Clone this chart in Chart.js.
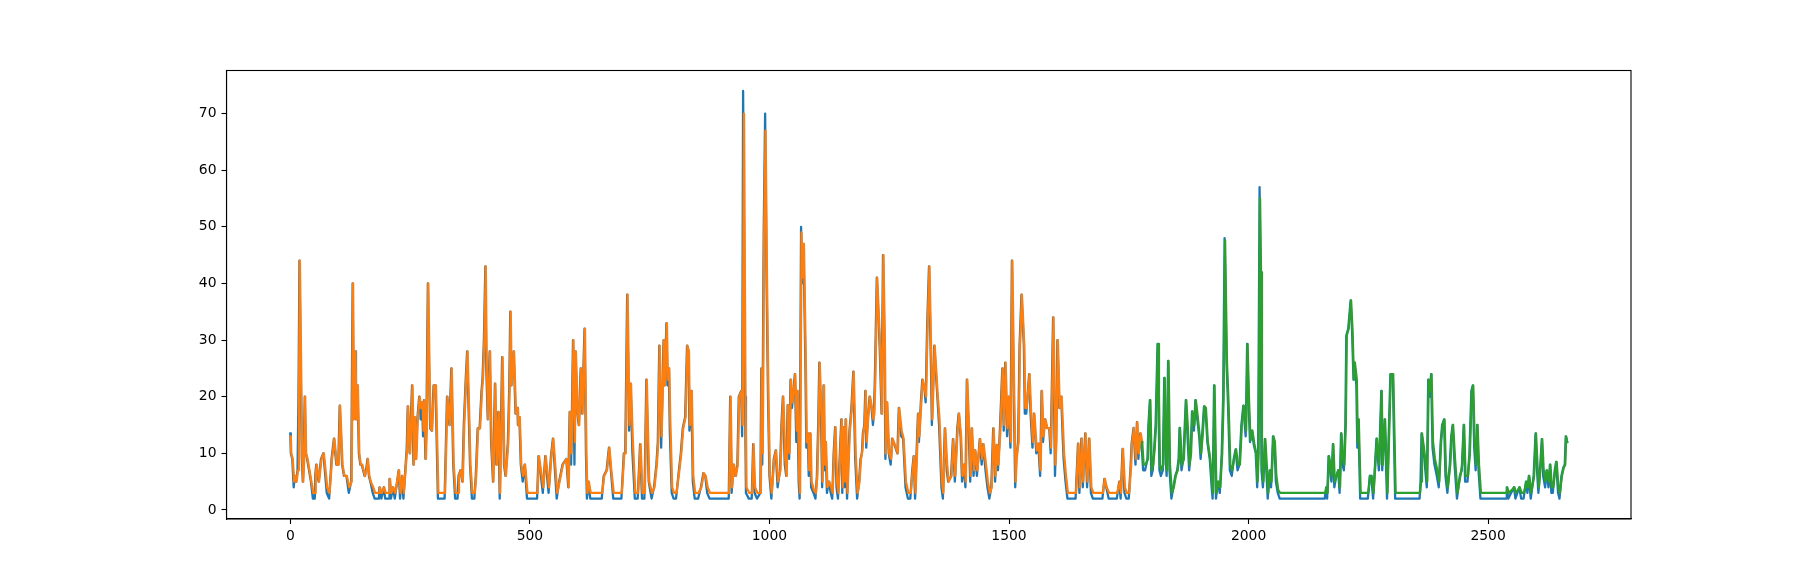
<!DOCTYPE html>
<html>
<head>
<meta charset="utf-8">
<style>
  html, body { margin: 0; padding: 0; background: #fff; }
  canvas { display: block; }
</style>
<script src="https://cdn.jsdelivr.net/npm/chart.js@4"></script>
</head>
<body>
<canvas id="chart" width="1812" height="583"></canvas>
<script>
const xTicks = [0, 500, 1000, 1500, 2000, 2500];
const yTicks = [0, 10, 20, 30, 40, 50, 60, 70];

// [sample, value]
const bluePoints = [
  [0,13.5],[1,10],[4,9],[7,4],[9,6],[12,5],[15,7],[17,20],[19,44],[22,22],[24,9],[26,5],[28,9],[30,20],[32,10],[35,9],[39,7],[43,5],[47,2],[51,2],
  [52,6],[54,8],[59,5],[64,9],[69,10],[76,3],[81,2],[86,9],[91,12.6],[96,8],[100,8],[103,18.4],[108,8],[112,6],[117,6],[122,3],[127,5],[130,40],[132,16],[135,28],[137,16],[140,22],
  [143,10],[146,8],[149,8],[152,7],[155,6],[158,7],[161,9],[164,6],[167,5],[172,3],[176,2],[185,2],[186,4],[190,2],[195,4],[198,2],[206,2],[207,5.5],[210,2],[214,4],[218,2],[226,7],[229,2],
  [233,6],[236,2],[243,11],[245,18.3],[249,10],[254,22],[257,8],[259,16.4],[262,9],[265,16],[269,20],[272,16],[275,19],[277,13],[279,19.4],[282,9],[284,15],[287,40],[290,22],[292,14.4],[295,14],
  [299,22],[303,22],[305,14],[308,2],[322,2],[327,20],[332,15],[336,25],[340,8],[344,2],[349,2],[351,6],[355,7],[359,5],[362,15],[366,23],[369,28],[375,8],[379,2],[384,2],[387,6],[391,14.4],[395,14.4],
  [399,21],[401,23],[404,30],[407,43],[409,25],[412,16],[416,28],[419,12],[423,5],[427,22.3],[430,8],[434,17.3],[437,2],[442,27],[446,8],[449,6],[454,12],[457,22],[459,35],[461,22],[466,28],[470,17],
  [474,18],[475,15],[478,16.4],[481,8],[485,5],[489,8],[494,2],[515,2],[518,9.5],[527,3],[532,9.5],[539,3],[544,9.5],[548,12.6],[556,2],[561,5],[568,8],[576,9],[580,4],[583,17.3],[586,8],[590,30],[593,8],
  [595,28],[599,17],[602,15],[606,25],[609,17],[614,32],[617,10],[619,2],[622,5],[626,2],[650,2],[654,6],[660,7],[665,11],[669,7],[674,2],[691,2],[696,10],[699,10],[703,38],[707,14],[710,22.3],[714,10],[719,2],[725,2],
  [730,11.6],[734,2],[739,2],[743,23],[748,5],[754,2],[759,4],[764,8],[767,12],[770,29],[774,11],[779,30],[781,22],[785,33],[787,22],[790,25],[792,14],[796,3],[800,2],[805,2],[811,7],[815,10],[819,14.4],
  [824,16.4],[828,29],[831,28],[833,14],[837,21],[840,5],[844,2],[851,2],[857,4],[862,6.5],[866,6],[870,3],[875,2],[915,2],[918,20],[921,3],[925,8],[929,6],[933,8],[936,20],[941,21],[943,13],[945,74],
  [949,20],[951,3],[957,2],[963,2],[966,11.6],[969,3],[974,2],[981,3],[983,25],[985,8],[988,49],[991,70],[994,40],[997,20],[1000,6],[1004,2],[1009,9],[1013,10.5],[1017,4],[1022,7],[1025,15],[1028,20],
  [1032,8],[1035,6],[1038,18.5],[1041,9],[1044,23],[1047,18],[1050,21],[1053,24],[1056,12],[1058,21],[1061,5],[1063,2],[1066,50],[1068,40],[1071,47],[1075,26],[1077,11],[1080,13.5],[1082,6],[1085,13.5],
  [1087,4],[1092,3],[1096,2],[1099,6],[1102,16],[1104,26],[1108,15],[1110,4],[1113,22],[1115,7],[1117,12],[1120,3],[1124,5],[1128,3],[1131,2],[1134,10],[1137,14.6],[1140,4],[1143,2],[1146,8],[1150,16],
  [1152,3],[1155,14.6],[1157,4],[1159,16],[1162,2],[1165,10],[1167,14],[1171,18],[1175,24.4],[1179,9],[1183,2],[1187,5],[1190,9],[1193,10],[1195,13.5],[1198,15],[1200,21],[1202,11],[1205,16],[1209,20],
  [1213,18],[1216,15],[1218,17],[1220,23],[1224,41],[1230,29],[1234,17],[1237,45],[1240,29],[1242,9],[1245,19],[1249,10],[1253,8],[1256,12.6],[1261,11.5],[1267,10],[1270,18],[1275,13],[1279,12.6],
  [1284,4],[1289,2],[1294,2],[1298,7],[1301,9.5],[1304,2],[1307,10],[1310,17],[1312,12],[1316,19],[1319,23],[1324,21],[1326,19],[1329,32],[1333,43],[1337,26],[1339,15],[1344,29],[1350,20.6],[1354,15],
  [1359,4],[1362,2],[1366,14.4],[1370,7],[1373,5],[1379,6],[1383,12.5],[1387,5],[1392,14.4],[1395,17],[1399,13],[1402,5],[1406,8],[1409,4],[1412,23],[1417,11],[1419,5],[1422,14.4],[1426,6],[1429,10.5],
  [1433,6],[1439,12.5],[1443,8],[1446,11.6],[1451,7],[1455,4],[1459,2],[1463,4],[1467,14.4],[1471,5],[1474,11.5],[1477,7],[1481,14],[1486,25],[1489,14],[1492,26],[1496,13],[1499,20],[1503,11],[1506,44],
  [1510,20],[1513,4],[1515,9],[1519,12],[1522,29],[1526,38],[1531,29],[1533,17],[1536,17],[1542,24],[1545,17],[1549,11],[1552,17],[1557,10],[1561,11.7],[1565,6],[1568,21],[1571,12],[1575,16],[1579,14.5],
  [1584,14.4],[1587,10],[1592,34],[1596,6],[1598,12],[1601,30],[1605,18],[1609,20],[1612,13],[1614,9],[1618,5],[1622,2],[1639,2],[1644,11.7],[1647,3],[1651,12.6],[1654,4],[1659,13.5],[1663,4],[1667,12.6],
  [1671,3],[1675,2],[1695,2],[1699,5.5],[1703,4],[1708,2],[1725,2],[1730,5],[1733,2],[1737,10.8],[1741,3],[1745,2],[1750,2],[1754,8],[1756,11.8],[1760,14.5],[1764,8],[1767,15.5],[1770,9],[1774,13.5],
  [1777,11],[1780,7],[1784,7],[1789,9],[1791,15],[1794,19.4],[1797,6],[1800,7],[1803,10.8],[1806,15],[1810,29.3],[1812,19],[1814,7],[1817,6],[1821,7],[1824,23.3],[1827,9],[1829,6],[1832,26.3],[1835,7],
  [1839,2],[1843,4],[1847,6],[1851,7],[1854,9],[1856,14.5],[1860,7],[1864,9],[1869,19.4],[1872,14],[1876,7],[1879,10],[1882,17.4],[1886,14],[1889,19.4],[1893,16],[1897,13],[1900,9],[1903,13],[1907,18.3],
  [1910,18],[1914,12],[1919,9],[1923,4],[1925,2],[1928,22],[1932,2],[1936,5],[1940,3],[1944,10],[1947,20],[1950,48],[1954,26],[1957,19],[1961,7],[1965,6],[1969,9],[1973,10.7],[1977,7],[1981,8],[1985,15],
  [1989,18.4],[1994,13],[1997,29.3],[2000,19],[2003,12],[2007,14],[2011,11.5],[2015,10],[2018,4],[2020,10],[2023,57],[2025,40],[2027,7],[2030,4],[2034,12.5],[2037,7],[2040,2],[2044,7],[2047,4],[2051,13],
  [2054,12],[2057,5],[2061,3],[2065,2],[2159,2],[2162,4],[2164,2],[2167,9.5],[2170,7],[2173,5],[2176,11.6],[2179,4],[2183,6],[2187,7],[2190,3],[2193,13.5],[2196,8],[2199,7],[2202,15],[2204,30.8],[2208,32],
  [2213,37],[2216,31.7],[2219,23],[2221,26],[2225,22],[2227,11],[2229,16],[2233,2],[2249,2],[2253,6],[2256,6],[2260,2],[2267,12.6],[2272,7],[2277,21],[2279,7],[2284,16],[2289,2],[2296,24],[2301,24],[2306,2],
  [2357,2],[2359,5],[2361,13.5],[2365,11],[2369,7],[2372,4],[2375,23],[2378,20],[2381,24],[2384,11],[2388,8],[2393,6],[2397,4],[2401,12],[2404,15],[2408,16],[2411,6],[2415,3],[2420,8],[2423,13],[2426,15],
  [2430,8],[2435,2],[2441,6],[2445,7],[2449,15],[2452,5],[2457,5],[2461,10],[2465,21],[2468,22],[2471,11],[2474,7],[2477,15],[2480,7],[2484,2],[2538,2],[2539,4],[2542,2],[2554,4],[2557,2],[2565,4],[2569,2],
  [2574,2],[2579,5],[2582,3],[2585,6],[2589,2],[2595,6],[2599,13.5],[2602,7],[2605,3],[2609,8],[2612,12.5],[2615,6],[2619,4],[2622,7],[2626,4],[2629,8],[2632,3],[2635,3],[2639,7],[2642,8.5],[2646,3],[2649,2],
  [2653,6],[2657,7.5],[2660,8],[2662,13],[2665,12]
];

const orangePoints = [
  [1,13],[2,10],[5,9],[8,5],[10,6],[13,5],[16,7],[18,20],[20,44],[23,22],[25,9],[27,5],[29,9],[31,20],[33,10],[36,9],[40,7],[44,5],[48,3],[52,3],
  [53,6],[55,8],[60,5],[65,9],[70,10],[77,4],[82,3],[87,9],[92,12.6],[97,8],[101,8],[104,18.4],[109,8],[113,6],[118,6],[123,4],[128,5],[131,40],[133,16],[136,28],[138,16],[141,22],
  [144,10],[147,8],[150,8],[153,7],[156,6],[159,7],[162,9],[165,6],[168,5],[173,4],[177,3],[186,3],[187,4],[191,3],[196,4],[199,3],[207,3],[208,5.5],[211,3],[215,4],[219,3],[227,7],[230,3],
  [234,6],[237,3],[244,11],[246,18.3],[250,10],[255,22],[258,8],[260,16.4],[263,9],[266,16],[270,20],[273,18],[276,19],[278,14],[280,19.4],[283,9],[285,15],[288,40],[291,22],[293,14.4],[296,14],
  [300,22],[304,22],[306,14],[309,3],[323,3],[328,20],[333,15],[337,25],[341,8],[345,3],[350,3],[352,6],[356,7],[360,5],[363,15],[367,23],[370,28],[376,8],[380,3],[385,3],[388,6],[392,14.4],[396,14.4],
  [400,21],[402,23],[405,30],[408,43],[410,25],[413,16],[417,28],[420,12],[424,5],[428,22.3],[431,8],[435,17.3],[438,3],[443,27],[447,8],[450,6],[455,12],[458,22],[460,35],[462,22],[467,28],[471,17],
  [475,18],[476,15],[479,16.4],[482,8],[486,6],[490,8],[495,3],[516,3],[519,9.5],[528,4],[533,9.5],[540,4],[545,9.5],[549,12.6],[557,3],[562,5],[569,8],[577,9],[581,4],[584,17.3],[587,10],[591,30],[594,12],
  [596,28],[600,17],[603,15],[607,25],[610,17],[615,32],[618,10],[620,3],[623,5],[627,3],[651,3],[655,6],[661,7],[666,11],[670,7],[675,3],[692,3],[697,10],[700,10],[704,38],[708,15],[711,22.3],[715,12],[720,3],[726,3],
  [731,11.6],[735,3],[740,3],[744,23],[749,5],[755,3],[760,4],[765,8],[768,12],[771,29],[775,13],[780,30],[782,22],[786,33],[788,23],[791,25],[793,16],[797,4],[801,3],[806,3],[812,7],[816,10],[820,14.4],
  [825,16.4],[829,29],[832,28],[834,15],[838,21],[841,6],[845,3],[852,3],[858,4],[863,6.5],[867,6],[871,4],[876,3],[916,3],[919,20],[922,4],[926,8],[930,6],[934,8],[937,20],[942,21],[944,15],[947,70],
  [950,20],[952,4],[958,3],[964,3],[967,11.6],[970,4],[975,3],[982,3],[984,25],[986,10],[989,49],[992,67],[995,40],[998,20],[1001,6],[1005,3],[1010,9],[1014,10.5],[1018,5],[1023,7],[1026,15],[1029,20],
  [1033,9],[1036,6],[1039,18.5],[1042,10],[1045,23],[1048,19],[1051,21],[1054,24],[1057,14],[1059,21],[1062,6],[1064,3],[1067,49],[1069,41],[1072,47],[1076,26],[1078,12],[1081,13.5],[1083,7],[1086,13.5],
  [1088,5],[1093,3.5],[1097,3],[1100,6],[1103,16],[1105,26],[1109,16],[1111,5],[1114,22],[1116,8],[1118,12],[1121,4],[1125,5],[1129,4],[1132,3],[1135,10],[1138,14.6],[1141,5],[1144,3],[1147,8],[1151,16],
  [1153,4],[1156,14.6],[1158,5],[1160,16],[1163,3],[1166,10],[1168,14],[1172,18],[1176,24.4],[1180,10],[1184,3],[1188,5],[1191,9],[1194,10.5],[1196,13.5],[1199,15],[1201,21],[1203,12],[1206,16],[1210,20],
  [1214,18],[1217,16],[1219,17],[1221,23],[1225,41],[1231,29],[1235,17],[1238,45],[1241,29],[1243,10],[1246,19],[1250,10],[1254,9],[1257,12.6],[1262,11.5],[1268,10],[1271,18],[1276,14],[1280,12.6],
  [1285,5],[1290,3],[1295,3],[1299,7],[1302,9.5],[1305,3],[1308,10],[1311,17],[1313,13],[1317,19],[1320,23],[1325,21],[1327,20],[1330,32],[1334,43],[1338,26],[1340,16],[1345,29],[1351,20.6],[1355,16],
  [1360,5],[1363,3],[1367,14.4],[1371,8],[1374,5],[1380,6],[1384,12.5],[1388,6],[1393,14.4],[1396,17],[1400,13],[1403,6],[1407,8],[1410,5],[1413,23],[1418,11.7],[1420,6],[1423,14.4],[1427,7],[1430,10.5],
  [1434,7],[1440,12.5],[1444,9],[1447,11.6],[1452,8],[1456,5],[1460,3],[1464,4],[1468,14.4],[1472,6],[1475,11.5],[1478,8],[1482,14],[1487,25],[1490,15],[1493,26],[1497,14.4],[1500,20],[1504,12],[1507,44],
  [1511,20],[1514,5],[1516,9],[1520,12],[1523,29],[1527,38],[1532,29],[1534,18],[1537,18],[1543,24],[1546,17.6],[1550,12],[1553,17],[1558,10.5],[1562,11.7],[1566,7],[1569,21],[1572,13],[1576,16],[1580,14.5],
  [1585,14.4],[1588,11],[1593,34],[1597,8],[1599,12],[1602,30],[1606,18],[1610,20],[1613,14],[1615,10],[1619,6],[1623,3],[1640,3],[1645,11.7],[1648,4],[1652,12.6],[1655,5],[1660,13.5],[1664,5],[1668,12.6],
  [1672,4],[1676,3],[1696,3],[1700,5.5],[1704,4],[1709,3],[1726,3],[1731,5],[1734,3],[1738,10.8],[1742,4],[1746,3],[1751,3],[1755,8],[1757,11.8],[1761,14.5],[1765,9],[1768,15.5],[1771,10],[1775,13.5],[1778,12]
];

const greenPoints = [
  [1778,12],[1781,8],[1785,8],[1790,9],[1792,15],[1795,19.4],[1798,7],[1801,8],[1804,10.8],[1807,15],[1811,29.3],[1813,20],[1815,8],[1818,7],[1822,8],[1825,23.3],[1828,10],[1830,7],[1833,26.3],[1836,8],
  [1840,3],[1844,4],[1848,6],[1852,7],[1855,9],[1857,14.5],[1861,8],[1865,9],[1870,19.4],[1873,15],[1877,8],[1880,10],[1883,17.4],[1887,15],[1890,19.4],[1894,16.4],[1898,13],[1901,10],[1904,13],[1908,18.3],
  [1911,18],[1915,12],[1920,9],[1924,5],[1926,3],[1929,22],[1933,3],[1937,5],[1941,4],[1945,10],[1948,20],[1951,47.6],[1955,26],[1958,19.4],[1962,8],[1966,7],[1970,9],[1974,10.7],[1978,8],[1982,8],[1986,15],
  [1990,18.4],[1995,14],[1998,29.3],[2001,19.4],[2004,12.3],[2008,14],[2012,11.7],[2016,10],[2019,5],[2021,10],[2024,55],[2026,42],[2028,8],[2031,5],[2035,12.5],[2038,8],[2041,3],[2045,7],[2048,5],[2052,13],
  [2055,12],[2058,6],[2062,3.5],[2066,3],[2160,3],[2163,4],[2165,3],[2168,9.5],[2171,8],[2174,6],[2177,11.6],[2180,5],[2184,6],[2188,7],[2191,4],[2194,13.5],[2197,9],[2200,8],[2203,15],[2205,30.8],[2209,32],
  [2214,37],[2217,31.7],[2220,23],[2222,26],[2226,23],[2228,12],[2230,16],[2234,3],[2250,3],[2254,6],[2257,6],[2261,3],[2268,12.6],[2273,8],[2278,21],[2280,8],[2285,16],[2290,3],[2297,24],[2302,24],[2307,3],
  [2358,3],[2360,5],[2362,13.5],[2366,11],[2370,8],[2373,5],[2376,23],[2379,21],[2382,24],[2385,12],[2389,9],[2394,7],[2398,5],[2402,12],[2405,15],[2409,16],[2412,7],[2416,4],[2421,8],[2424,13],[2427,15],
  [2431,9],[2436,3],[2442,6],[2446,8],[2450,15],[2453,6],[2458,6],[2462,10],[2466,21],[2469,22],[2472,12],[2475,8],[2478,15],[2481,8],[2485,3],[2539,3],[2540,4],[2543,3],[2555,4],[2558,3],[2566,4],[2570,3],
  [2575,3],[2580,5],[2583,4],[2586,6],[2590,3],[2596,6],[2600,13.5],[2603,8],[2606,4],[2610,8],[2613,12.5],[2616,7],[2620,5],[2623,7],[2627,5],[2630,8],[2633,4],[2636,4],[2640,7],[2643,8.5],[2647,4],[2650,3],
  [2654,6],[2658,7.5],[2661,8],[2663,13],[2665,12]
];

const toXY = (pts) => pts.map(([x, y]) => ({ x, y }));
const line = (pts, color, order) => ({
  data: toXY(pts),
  borderColor: color,
  borderWidth: 2.3,
  borderJoinStyle: "round",
  borderCapStyle: "square",
  pointRadius: 0,
  tension: 0,
  order: order
});

// top and right spines, Chart.js only gives the left and bottom ones
const frame = {
  id: "frame",
  afterDatasetsDraw(chart) {
    const { ctx, chartArea: a } = chart;
    ctx.save();
    ctx.strokeStyle = "#000";
    ctx.lineWidth = 1.1;
    ctx.strokeRect(a.left, a.top, a.right - a.left, a.bottom - a.top);
    ctx.restore();
  }
};

const tickFont = { family: "DejaVu Sans", size: 13.9 };
const gridOpts = {
  drawOnChartArea: false,
  drawTicks: true,
  tickLength: 5,
  tickColor: "#000",
  tickWidth: 1.1
};

new Chart(document.getElementById("chart"), {
  type: "line",
  data: {
    datasets: [
      line(bluePoints, "#1f77b4", 3),
      line(orangePoints, "#ff7f0e", 2),
      line(greenPoints, "#2ca02c", 1)
    ]
  },
  options: {
    responsive: false,
    animation: false,
    devicePixelRatio: 1,
    layout: { padding: { left: 0, top: 70.5, right: 181, bottom: 0 } },
    plugins: { legend: { display: false }, tooltip: { enabled: false } },
    scales: {
      x: {
        type: "linear",
        min: -133.25,
        max: 2798.25,
        grid: gridOpts,
        border: { color: "#000", width: 1.1 },
        ticks: { color: "#000", font: tickFont, padding: 4, maxRotation: 0, callback: (v) => String(v) },
        afterBuildTicks: (s) => { s.ticks = xTicks.map((value) => ({ value })); },
        afterFit: (s) => { s.height = 64; }
      },
      y: {
        min: -1.6,
        max: 77.6,
        grid: gridOpts,
        border: { color: "#000", width: 1.1 },
        ticks: { color: "#000", font: tickFont, padding: 5, callback: (v) => String(v) },
        afterBuildTicks: (s) => { s.ticks = yTicks.map((value) => ({ value })); },
        afterFit: (s) => { s.width = 226.5; }
      }
    }
  },
  plugins: [frame]
});
</script>
</body>
</html>
